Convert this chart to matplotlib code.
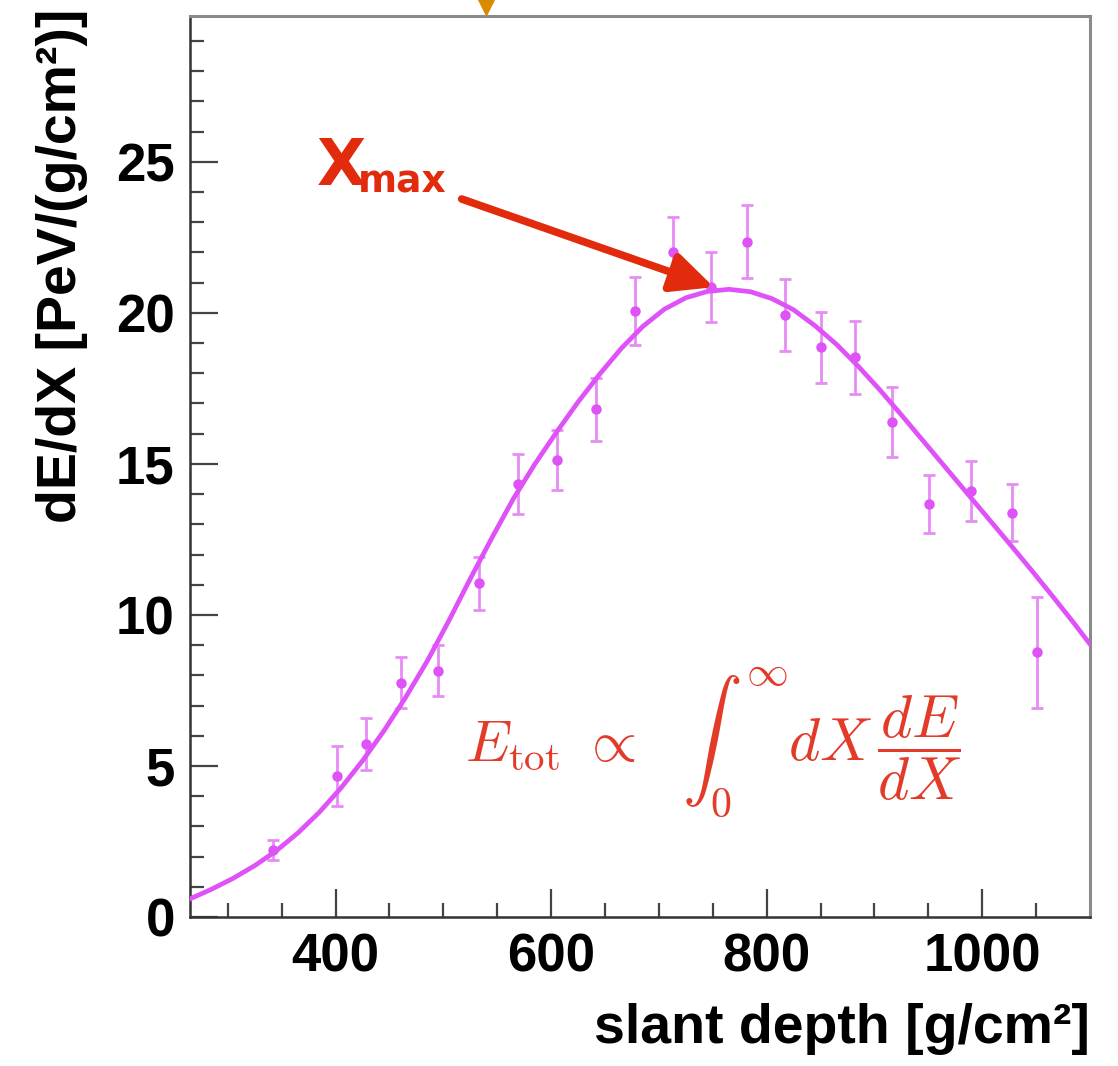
import numpy as np
import matplotlib
matplotlib.use("Agg")
import matplotlib.pyplot as plt

# ==========================================
# data
# ==========================================
depth = [342, 401.5, 428, 461, 495, 533, 569, 605, 641.5, 678, 713, 748,
         782, 817, 850, 882, 916, 951, 990, 1028, 1051]
dEdX = [2.22, 4.67, 5.73, 7.76, 8.16, 11.05, 14.34, 15.13, 16.81, 20.07, 22.0, 20.87,
        22.36, 19.93, 18.86, 18.53, 16.39, 13.67, 14.10, 13.39, 8.76]
dEdX_err = [0.34, 0.98, 0.87, 0.84, 0.83, 0.88, 1.0, 1.0, 1.05, 1.13, 1.18, 1.16,
            1.2, 1.18, 1.17, 1.21, 1.15, 0.97, 1.0, 0.95, 1.85]

# fitted profile
fit_x = [265, 285, 305, 325, 345, 365, 385, 405, 425, 445, 465, 485, 505, 525,
         545, 565, 585, 605, 625, 645, 665, 685, 705, 725, 745, 765, 785, 805,
         825, 845, 865, 885, 905, 925, 945, 965, 985, 1005, 1025, 1045, 1065,
         1085, 1100]
fit_y = [0.60, 0.92, 1.28, 1.70, 2.19, 2.78, 3.47, 4.27, 5.17, 6.17, 7.27, 8.47,
         9.80, 11.20, 12.55, 13.85, 15.00, 16.05, 17.05, 17.97, 18.82, 19.55, 20.12,
         20.50, 20.71, 20.78, 20.70, 20.47, 20.10, 19.57, 18.95, 18.23, 17.45,
         16.62, 15.77, 14.92, 14.07, 13.22, 12.37, 11.51, 10.63, 9.73, 9.03]

x_ticks = [400, 600, 800, 1000]
y_ticks = [0, 5, 10, 15, 20, 25]
xmax_tail = (517, 23.77)
xmax_head = (751, 20.85)
orange_marker_x = 540

MAGENTA = "#DF52F7"
RED = "#E22A0C"
FORMULA_RED = "#E23B2A"

plt.rcParams["mathtext.fontset"] = "cm"

fig = plt.figure(figsize=(11.18, 10.66), dpi=100)
ax = fig.add_axes([0.170, 0.1398, 0.805, 0.8455])

ax.plot(fit_x, fit_y, color=MAGENTA, lw=3.4, solid_joinstyle="round", zorder=3)
ax.errorbar(depth, dEdX, yerr=dEdX_err, fmt="o", ms=6.5, color=MAGENTA,
            ecolor="#E88CF5", elinewidth=2, capsize=4, capthick=2, zorder=2)

ax.set_xlim(265, 1100)
ax.set_ylim(0, 29.84)
ax.set_xticks(x_ticks)
ax.set_yticks(y_ticks)
ax.set_xticks(np.arange(300, 1100, 50), minor=True)
ax.set_yticks(np.arange(0, 30, 1), minor=True)

tick_font = dict(family="Liberation Sans", weight="bold", size=38)
ax.set_xticklabels([str(t) for t in x_ticks], **tick_font)
ax.set_yticklabels([str(t) for t in y_ticks], **tick_font)
ax.tick_params(which="both", direction="in", top=False, right=False,
               color="#444444", width=1.6)
ax.tick_params(which="major", length=20, pad=11)
ax.tick_params(which="minor", length=10)

for side in ["left", "bottom"]:
    ax.spines[side].set_color("#333333")
    ax.spines[side].set_linewidth(1.8)
for side in ["top", "right"]:
    ax.spines[side].set_color("#8a8a8a")
    ax.spines[side].set_linewidth(2.2)

label_font = dict(family="Liberation Sans", weight="bold", size=40)
ax.set_xlabel("slant depth [g/cm²]", loc="right", labelpad=15, **label_font)
ax.set_ylabel("dE/dX [PeV/(g/cm²)]", loc="top", **label_font)
ax.yaxis.set_label_coords(-0.113, 1.008)

# X_max annotation
ax.text(383, 24.24, "X", color=RED, fontsize=46, fontweight="bold",
        family="DejaVu Sans", va="baseline", ha="left")
ax.text(421, 24.0, "max", color=RED, fontsize=27, fontweight="bold",
        family="DejaVu Sans", va="baseline", ha="left")
ax.annotate("", xy=xmax_head, xytext=xmax_tail,
            arrowprops=dict(arrowstyle="-|>,head_length=1.7,head_width=0.8",
                            mutation_scale=15, color=RED, lw=5.5,
                            shrinkA=0, shrinkB=0))

# formula E_tot ∝ ∫ dX dE/dX
ax.text(520, 5.17, r"$E_{\rm tot}$", color=FORMULA_RED, fontsize=42,
        va="baseline", ha="left")
ax.text(628, 5.17, r"$\propto$", color=FORMULA_RED, fontsize=42,
        va="baseline", ha="left")
ax.text(721, 5.17, r"$\int_0^\infty dX\,\dfrac{dE}{dX}$", color=FORMULA_RED,
        fontsize=43, va="baseline", ha="left")

# orange marker above the frame
ax.plot([orange_marker_x], [30.49], marker="v", ms=28, color="#D98B00",
        clip_on=False, zorder=5)

fig.savefig("out.png", dpi=100)
